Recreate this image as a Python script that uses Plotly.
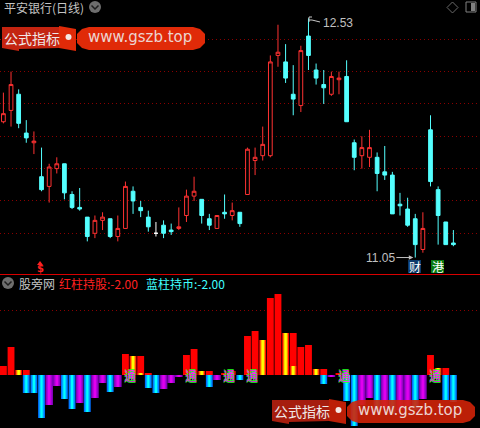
"""Stock chart with candlesticks and a gradient bar indicator pane."""

import plotly.graph_objects as go

WIDTH = 480
HEIGHT = 428
CJK = "Noto Sans CJK SC"

opens = [
    11.89, 11.96, 12.06, 11.82, 11.76, 11.55, 11.49, 11.60, 11.63, 11.44,
    11.36, 11.30, 11.20, 11.28, 11.29, 11.18, 11.23, 11.46, 11.36, 11.30,
    11.20, 11.25, 11.22, 11.23, 11.31, 11.43, 11.41, 11.29, 11.23, 11.33,
    11.31, 11.33, 11.44, 11.65, 11.68, 11.68, 12.30, 12.26, 12.06, 11.99,
    12.42, 12.21, 12.12, 12.06, 12.15, 12.17, 11.76, 11.68, 11.67, 11.67,
    11.58, 11.56, 11.38, 11.35, 11.29, 11.10, 11.84, 11.47, 11.27, 11.14,
]
closes = [
    11.94, 12.12, 11.88, 11.79, 11.77, 11.47, 11.61, 11.63, 11.45, 11.36,
    11.35, 11.18, 11.28, 11.30, 11.18, 11.23, 11.49, 11.40, 11.34, 11.24,
    11.20, 11.20, 11.21, 11.24, 11.43, 11.46, 11.31, 11.25, 11.31, 11.32,
    11.34, 11.26, 11.72, 11.67, 11.75, 12.26, 12.32, 12.16, 12.03, 12.33,
    12.30, 12.16, 12.10, 12.17, 12.16, 11.89, 11.67, 11.73, 11.73, 11.57,
    11.56, 11.32, 11.37, 11.25, 11.13, 11.23, 11.52, 11.31, 11.13, 11.13,
]
highs = [
    12.07, 12.20, 12.09, 11.90, 11.83, 11.73, 11.63, 11.67, 11.63, 11.46,
    11.48, 11.30, 11.31, 11.33, 11.29, 11.31, 11.52, 11.49, 11.40, 11.34,
    11.27, 11.28, 11.26, 11.36, 11.47, 11.55, 11.41, 11.32, 11.31, 11.44,
    11.39, 11.33, 11.73, 11.73, 11.86, 12.30, 12.49, 12.37, 12.24, 12.36,
    12.53, 12.25, 12.21, 12.20, 12.20, 12.27, 11.78, 11.80, 11.84, 11.70,
    11.74, 11.58, 11.45, 11.42, 11.32, 11.33, 11.93, 11.49, 11.27, 11.22,
]
lows = [
    11.88, 11.86, 11.85, 11.76, 11.69, 11.46, 11.39, 11.57, 11.41, 11.35,
    11.34, 11.15, 11.17, 11.22, 11.17, 11.15, 11.23, 11.32, 11.30, 11.21,
    11.18, 11.17, 11.19, 11.22, 11.27, 11.40, 11.26, 11.22, 11.23, 11.29,
    11.28, 11.24, 11.44, 11.56, 11.65, 11.67, 12.23, 12.13, 11.93, 11.95,
    12.21, 12.12, 12.00, 12.05, 12.06, 11.89, 11.59, 11.60, 11.61, 11.46,
    11.53, 11.32, 11.31, 11.24, 11.05, 11.08, 11.49, 11.13, 11.13, 11.12,
]
doji_index = 20
price_grid = [11.2, 11.4, 11.6, 11.8, 12.0, 12.2, 12.4]

# indicator pane, sparse bars
red_x = [0, 1, 3, 16, 18, 19, 24, 25, 27, 29, 30, 32, 33, 35, 36, 38, 39, 40, 42, 44, 56, 58]
red_v = [9, 28, 5, 21, 19, 2, 20, 26, 4, 2, 4, 39, 44, 77, 81, 42, 28, 30, 6, 2, 20, 7]
yellow_x = [2, 17, 18, 26, 34, 37, 38, 41, 57]
yellow_v = [5, 19, 2, 4, 35, 42, 9, 6, 7]
blue_x = [3, 4, 5, 8, 9, 11, 14, 19, 20, 27, 31, 42, 45, 46, 49, 51, 54, 58, 59]
blue_v = [-18, -18, -43, -24, -34, -37, -17, -13, -18, -12, -5, -9, -26, -51, -37, -39, -35, -25, -27]
purple_x = [6, 7, 10, 12, 13, 15, 21, 22, 23, 28, 43, 47, 48, 50, 52, 53, 55]
purple_v = [-30, -11, -28, -23, -8, -12, -14, -8, -2, -5, -2, -30, -23, -33, -35, -31, -24]
signal_x = [16.6, 24.6, 29.6, 32.6, 44.6, 56.6]

# gradient layers, outside to centre
red_layers = [("#ff0000", 0.9)]
yellow_layers = [("#ff0000", 0.9), ("#ff9000", 0.62), ("#ffff00", 0.32)]
blue_layers = [("#0070ff", 0.9), ("#00b0ff", 0.58), ("#00ffff", 0.28)]
purple_layers = [("#8000b8", 1.0), ("#b000d8", 0.66), ("#e000f0", 0.32)]


def px(x):
    return x / WIDTH


def py(y):
    return 1 - y / HEIGHT


def path(points, closed=True):
    """Build an SVG path in paper coords from picture pixels."""
    parts = [f"{'M' if i == 0 else 'L'} {px(x):.5f} {py(y):.5f}" for i, (x, y) in enumerate(points)]
    return " ".join(parts) + (" Z" if closed else "")


def poly(points, fill, opacity=1.0):
    return dict(type="path", xref="paper", yref="paper", path=path(points), fillcolor=fill,
                line=dict(width=0), opacity=opacity, layer="above")


def stroke(points, color, width=1):
    return dict(type="path", xref="paper", yref="paper", path=path(points, closed=False),
                line=dict(color=color, width=width), layer="above")


def rect(x0, y0, x1, y1, fill, line_color=None, opacity=1.0):
    return dict(type="rect", xref="paper", yref="paper", x0=px(x0), x1=px(x1), y0=py(y0), y1=py(y1),
                fillcolor=fill, opacity=opacity, layer="above",
                line=dict(width=1 if line_color else 0, color=line_color))


def circle(cx, cy, r, fill):
    return dict(type="circle", xref="paper", yref="paper", x0=px(cx - r), x1=px(cx + r),
                y0=py(cy - r), y1=py(cy + r), fillcolor=fill, line=dict(width=0), layer="above")


def label(x, y, text, color, size=12, family=CJK, xanchor="left"):
    return dict(xref="paper", yref="paper", x=px(x), y=py(y), text=text, showarrow=False,
                xanchor=xanchor, yanchor="middle", borderpad=0,
                font=dict(color=color, size=size, family=family))


def watermark(dx, dy, pill_color, body_color, opacity):
    """Logo banner, drawn twice over the chart."""
    shapes = [
        poly([(2 + dx, 27 + dy), (59 + dx, 27 + dy), (59 + dx, 48 + dy), (19 + dx, 49 + dy),
              (19 + dx, 51 + dy), (2 + dx, 48 + dy)], body_color, opacity),
        poly([(59 + dx, 26 + dy), (76 + dx, 29 + dy), (76 + dx, 51 + dy), (59 + dx, 48 + dy)],
             pill_color, opacity),
        dict(type="path", xref="paper", yref="paper", fillcolor=pill_color, opacity=opacity,
             line=dict(width=0), layer="above",
             path=path([(89 + dx, 27 + dy), (193 + dx, 27 + dy), (200 + dx, 29 + dy), (205 + dx, 34 + dy),
                        (205 + dx, 43 + dy), (200 + dx, 48 + dy), (193 + dx, 50 + dy), (89 + dx, 50 + dy),
                        (82 + dx, 48 + dy), (77 + dx, 43 + dy), (77 + dx, 34 + dy), (82 + dx, 29 + dy)])),
        circle(68.5 + dx, 37 + dy, 3, "#f4e8e4"),
    ]
    notes = [
        label(3 + dx, 37.5 + dy, "公式指标", "#f0e8e8", size=14),
        label(87 + dx, 37 + dy, "www.gszb.top", "#ecd4d0", size=15, family="DejaVu Sans"),
    ]
    return shapes, notes


def add_layered_bars(fig, x, values, layers):
    for color, bar_width in layers:
        fig.add_trace(go.Bar(
            x=x,
            y=values,
            width=bar_width,
            marker=dict(color=color, line=dict(width=0)),
            xaxis="x2",
            yaxis="y2",
            hoverinfo="skip",
        ))


fig = go.Figure()

idx = list(range(len(opens)))
main = [i for i in idx if i != doji_index]

fig.add_trace(go.Candlestick(
    x=main,
    open=[opens[i] for i in main],
    high=[highs[i] for i in main],
    low=[lows[i] for i in main],
    close=[closes[i] for i in main],
    increasing=dict(line=dict(color="#ff3232", width=1), fillcolor="#000000"),
    decreasing=dict(line=dict(color="#54ffff", width=1), fillcolor="#54ffff"),
    whiskerwidth=0,
))
fig.add_trace(go.Candlestick(
    x=[doji_index],
    open=[opens[doji_index]],
    high=[highs[doji_index]],
    low=[lows[doji_index]],
    close=[closes[doji_index]],
    increasing=dict(line=dict(color="#ffffff", width=1), fillcolor="#ffffff"),
    decreasing=dict(line=dict(color="#ffffff", width=1), fillcolor="#ffffff"),
    whiskerwidth=0,
))

add_layered_bars(fig, red_x, red_v, red_layers)
add_layered_bars(fig, yellow_x, yellow_v, yellow_layers)
add_layered_bars(fig, purple_x, purple_v, purple_layers)
add_layered_bars(fig, blue_x, blue_v, blue_layers)

shapes = [
    # pane divider
    dict(type="line", xref="paper", yref="paper", x0=0, x1=1, y0=py(274.5), y1=py(274.5),
         line=dict(color="#d80000", width=1), layer="above"),
    # header icons
    circle(95, 7, 6, "#6e6e6e"),
    stroke([(91.5, 5.5), (95, 9), (98.5, 5.5)], "#1e1e1e", 1.5),
    circle(8, 283, 6, "#6e6e6e"),
    stroke([(4.5, 281.5), (8, 285), (11.5, 281.5)], "#1e1e1e", 1.5),
    dict(type="path", xref="paper", yref="paper", line=dict(color="#6a6a6a", width=1), layer="above",
         path=path([(452.5, 2), (458, 7.5), (452.5, 13), (447, 7.5)])),
    rect(466, 2, 476, 12, "rgba(0,0,0,0)", "#808080"),
    rect(471, 3, 475, 11, "#808080"),
    # high flag
    stroke([(309, 22), (309, 17), (312, 17)], "#c8c8c8"),
    stroke([(309, 20), (312, 20), (316, 21), (320, 22)], "#c8c8c8"),
    # S marker tip
    poly([(40, 261), (43, 265), (37, 265)], "#ff2020"),
    # tag boxes
    rect(408, 260, 421, 273, "#0c3a6a"),
    rect(431, 260, 444, 273, "#0a7a10"),
]

annotations = [
    label(2.5, 7.5, "平安银行(日线)", "#c4c4c4"),
    label(18, 283, "股旁网", "#c4c4c4"),
    label(58, 283, "红柱持股:-2.00", "#ff2020"),
    label(145, 283, "蓝柱持币:-2.00", "#40ffff"),
    label(322, 23, "12.53", "#c0c0c0", family="Liberation Sans"),
    dict(xref="x", yref="y", x=53.75, y=11.05, text="11.05", showarrow=True, ax=-33, ay=0,
         arrowcolor="#c0c0c0", arrowwidth=1, arrowhead=2, arrowsize=0.9, standoff=0,
         font=dict(color="#c0c0c0", size=12, family="Liberation Sans")),
    label(40, 268.5, "<b>$</b>", "#ff2020", size=10, family="DejaVu Sans", xanchor="center"),
    label(414.5, 266.5, "财", "#ffffff", xanchor="center"),
    label(437.5, 266.5, "港", "#ffffff", xanchor="center"),
]

# signal glyphs sit on the indicator zero line, green edge from a text shadow
for pos in signal_x:
    annotations.append(dict(xref="x2", yref="y2", x=pos, y=0, text="通", showarrow=False,
                            font=dict(color="#ff20ff", size=12, family=CJK,
                                      shadow="0px -1px 0px #20ff20, 0px 1px 0px #20ff20")))

for dx, dy, pill, body, alpha in ((0, 0, "#e02a08", "#c42410", 1.0), (270, 373, "#d02208", "#b82010", 0.9)):
    wm_shapes, wm_notes = watermark(dx, dy, pill, body, alpha)
    shapes += wm_shapes
    annotations += wm_notes

axis_x = dict(range=[-0.446, 62.49], visible=False, fixedrange=True)
grid_y = dict(showgrid=True, gridcolor="#8a0000", gridwidth=1, griddash="1px,3px", zeroline=False,
              showticklabels=False, ticks="", showline=False, fixedrange=True)

fig.update_layout(
    width=WIDTH,
    height=HEIGHT,
    margin=dict(l=0, r=0, t=0, b=0),
    paper_bgcolor="#000000",
    plot_bgcolor="#000000",
    showlegend=False,
    barmode="overlay",
    boxgap=0.3,
    xaxis=dict(axis_x, rangeslider=dict(visible=False), anchor="y"),
    xaxis2=dict(axis_x, anchor="y2"),
    yaxis=dict(grid_y, domain=[1 - 275 / HEIGHT, 1], range=[10.942, 12.643], tickvals=price_grid),
    yaxis2=dict(grid_y, domain=[0, 1 - 275 / HEIGHT], range=[-53, 100], tickvals=[65]),
    shapes=shapes,
    annotations=annotations,
)

fig.write_html(
    "out.html",
    config=dict(displayModeBar=False),
    post_script="document.body.style.margin='0';document.body.style.background='#000';document.body.style.overflow='hidden';",
)
